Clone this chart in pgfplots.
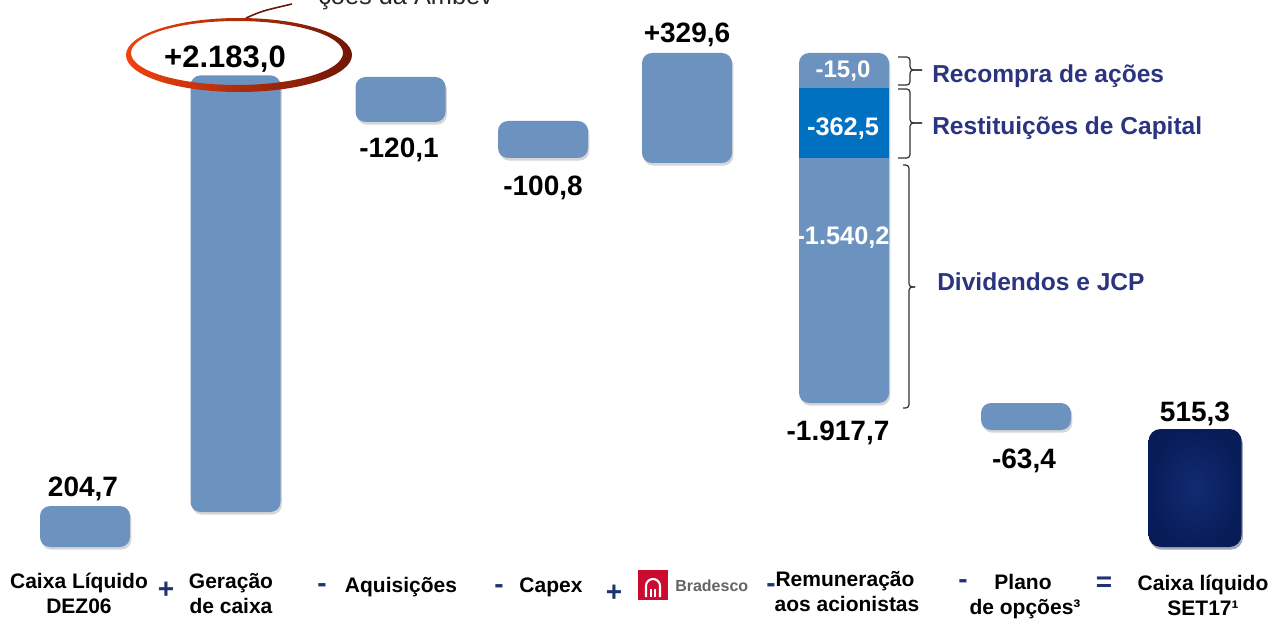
\documentclass[border=0pt]{standalone}
\usepackage{pgfplots}
\pgfplotsset{compat=1.18}
\usepackage{fontspec}
\setmainfont{Liberation Sans}
\definecolor{barlight}{RGB}{108,146,192}
\definecolor{bardark}{RGB}{0,112,192}
\definecolor{navyout}{RGB}{8,28,88}
\definecolor{navyin}{RGB}{17,43,114}
\definecolor{annot}{RGB}{43,52,127}
\definecolor{signc}{RGB}{31,51,112}
\definecolor{ringl}{RGB}{240,66,14}
\definecolor{ringr}{RGB}{112,22,6}
\definecolor{bradred}{RGB}{204,9,47}
\definecolor{bradgray}{RGB}{100,100,104}
\newcommand\fs[1]{\fontsize{#1}{#1}\selectfont\bfseries}
\pgfplotsset{wfaxis/.style={width=959.25pt, height=464.25pt, scale only axis, hide axis,
  xmin=0, xmax=1279, ymin=-360, ymax=2735, clip=false, at={(0,0)}, anchor=south west}}
\begin{document}
\begin{tikzpicture}
% light bars (floating, stacked on invisible bases)
\begin{axis}[wfaxis, name=main, ybar stacked, bar width=90]
\addplot[draw=none, fill=none] coordinates {(85,0) (235.5,175) (400.5,2125) (543,1945) (687,1920) (844,720) (1026,585)};
\addplot[fill=barlight, draw=none, rounded corners=7.5pt,
  preaction={fill=black, fill opacity=0.16, transform canvas={xshift=1pt, yshift=-2pt}}]
  coordinates {(85,204.7) (235.5,2183) (400.5,225) (543,185) (687,550) (844,1750) (1026,135)};
\end{axis}
% dark segment and final bar
\begin{axis}[wfaxis, ybar stacked, bar width=90]
\addplot[draw=none, fill=none] coordinates {(844,1945)};
\addplot[fill=bardark, draw=none] coordinates {(844,350)};
\addplot[stack plots=false, bar width=93, draw=none, rounded corners=9pt, inner color=navyin, outer color=navyout,
  preaction={fill=black, fill opacity=0.2, transform canvas={xshift=1pt, yshift=-2pt}}]
  coordinates {(1195,590)};
\end{axis}
\begin{scope}[x=0.75pt, y=-0.75pt, shift={(main.north west)}]
% cropped heading (cut by the top edge in the reference too)
\node[anchor=base west, inner sep=0, font=\fontsize{19}{19}\selectfont, black!85] at (318,5) {ções da Ambev};
% ring
\shade[even odd rule, left color=ringl, right color=ringr]
  (239,55) ellipse [x radius=113, y radius=37] (237,53) ellipse [x radius=106, y radius=32];
\draw[ringr, line width=1.2pt] (246,18) .. controls (262,11) .. (292,4);
% braces
\begin{scope}[draw=black!80, line width=0.9pt, rounded corners=2.5pt]
\draw (898,57) -- (910,57) -- (910,70) -- (922,70);
\draw (922,70) -- (910,70) -- (910,85) -- (898,85);
\draw (898,89) -- (910,89) -- (910,123) -- (922,123);
\draw (922,123) -- (910,123) -- (910,158) -- (898,158);
\draw (903,165) -- (909,165) -- (909,287) -- (915,287);
\draw (915,287) -- (909,287) -- (909,408) -- (903,408);
\end{scope}
% value labels
\begin{scope}[every node/.style={anchor=base, inner sep=0}]
\node[font=\fs{21}] at (83,496) {204,7};
\node[font=\fs{23.25}] at (225,68) {+2.183,0};
\node[font=\fs{21}] at (399,158) {-120,1};
\node[font=\fs{21}] at (543,196) {-100,8};
\node[font=\fs{21}] at (687,43) {+329,6};
\node[font=\fs{18}, white] at (843,78) {-15,0};
\node[font=\fs{19}, white] at (843,136) {-362,5};
\node[font=\fs{19}, white] at (843,245) {-1.540,2};
\node[font=\fs{21}] at (838,440) {-1.917,7};
\node[font=\fs{21}] at (1024,468) {-63,4};
\node[font=\fs{21}] at (1195,421) {515,3};
% category labels
\node[font=\fs{15.75}] at (79,588) {Caixa Líquido};
\node[font=\fs{15.75}] at (79,613) {DEZ06};
\node[font=\fs{15.75}] at (231,588) {Geração};
\node[font=\fs{15.75}] at (231,613) {de caixa};
\node[font=\fs{15.75}] at (401,592) {Aquisições};
\node[font=\fs{15.75}] at (551,592) {Capex};
\node[font=\fs{15.75}] at (845,586) {Remuneração};
\node[font=\fs{15.75}] at (847,611) {aos acionistas};
\node[font=\fs{15.75}] at (1023,589) {Plano};
\node[font=\fs{15.75}] at (1025,614) {de opções³};
\node[font=\fs{15.75}] at (1203,590) {Caixa líquido};
\node[font=\fs{15.75}] at (1203,615) {SET17¹};
\end{scope}
% annotations
\begin{scope}[every node/.style={anchor=base west, inner sep=0, font=\fs{18.4}, text=annot}]
\node at (932,83) {Recompra de ações};
\node at (932,135) {Restituições de Capital};
\node at (937,290) {Dividendos e JCP};
\end{scope}
% operators
\begin{scope}[every node/.style={anchor=base, inner sep=0, font=\fs{21}, text=signc}]
\node at (166,598) {+};
\node at (322,592) {-};
\node at (499,593) {-};
\node at (614,601) {+};
\node at (771,592) {-};
\node at (963,588) {-};
\node at (1104,591) {=};
\end{scope}
% Bradesco logo
\fill[bradred] (638,570) rectangle (668,600);
\draw[white, line width=1.6pt] (646,597) -- (646,586) arc (180:360:7) -- (660,597);
\draw[white, line width=1.2pt] (651,597) -- (651,589) (655,597) -- (655,589);
\node[anchor=base west, inner sep=0, font=\fs{12}, text=bradgray] at (675,591) {Bradesco};
\end{scope}
\pgfresetboundingbox
\path[use as bounding box] (main.south west) rectangle (main.north east);
\end{tikzpicture}
\end{document}
